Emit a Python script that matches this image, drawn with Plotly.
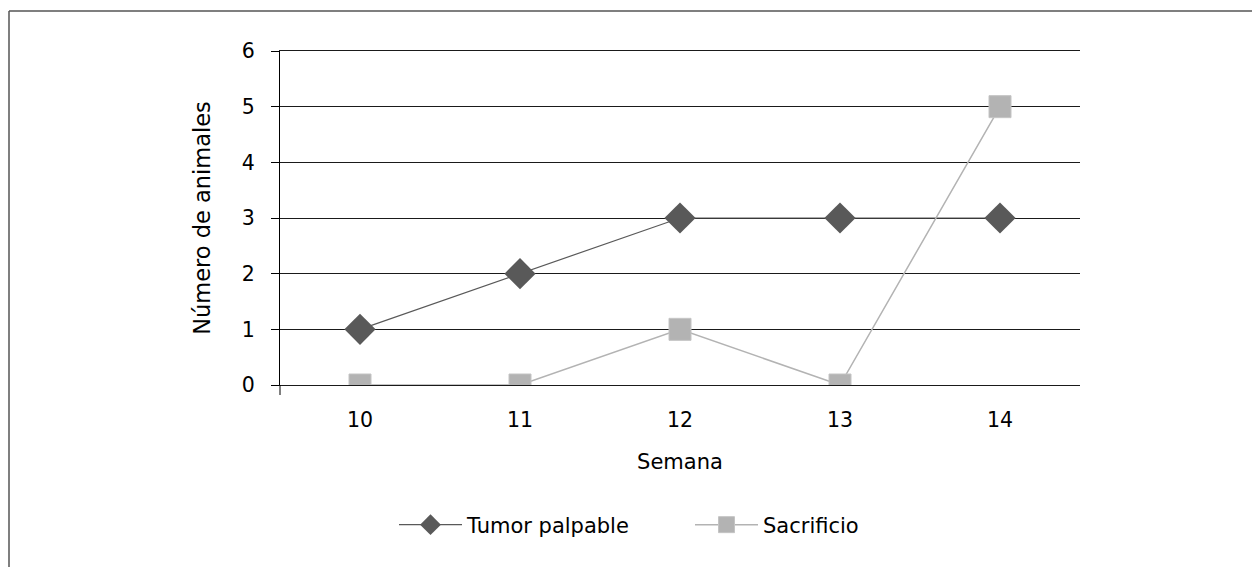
import plotly.graph_objects as go

semanas = [10, 11, 12, 13, 14]
tumor_palpable = [1, 2, 3, 3, 3]
sacrificio = [0, 0, 1, 0, 5]
y_ticks = [0, 1, 2, 3, 4, 5, 6]

FONT = "DejaVu Sans"
OFF = 8  # default page body margin
W, H = 1260 - OFF, 567 - OFF
L, T = 280 - OFF, 51 - OFF
PW, PH = 800, 334
R, B = W - L - PW, H - T - PH

fig = go.Figure()
fig.add_trace(go.Scatter(
    x=semanas, y=tumor_palpable, name="Tumor palpable", mode="lines+markers",
    line=dict(color="#595959", width=1.2),
    marker=dict(symbol="diamond", size=24, color="#595959"),
))
fig.add_trace(go.Scatter(
    x=semanas, y=sacrificio, name="Sacrificio", mode="lines+markers",
    line=dict(color="#b3b3b3", width=1.5),
    marker=dict(symbol="square", size=22, color="#b3b3b3",
                line=dict(color="#c4c4c4", width=1)),
))

def px_x(p):  # page pixel -> paper
    return (p - OFF - L) / PW

def px_y(p):
    return (T + PH - (p - OFF)) / PH

shapes = [
    dict(type="line", xref="paper", yref="paper", x0=0, x1=0, y0=px_y(395), y1=0,
         line=dict(color="#000000", width=1)),
    dict(type="line", xref="paper", yref="paper", x0=px_x(9), x1=px_x(1275), y0=px_y(11), y1=px_y(11),
         line=dict(color="#555555", width=1.5)),
    dict(type="line", xref="paper", yref="paper", x0=px_x(9), x1=px_x(9), y0=px_y(11), y1=px_y(590),
         line=dict(color="#555555", width=1.5)),
]

fig.update_layout(
    width=W, height=H,
    margin=dict(l=L, r=R, t=T, b=B, pad=0),
    paper_bgcolor="white", plot_bgcolor="white",
    font=dict(family=FONT, size=20, color="#000000"),
    showlegend=True,
    legend=dict(orientation="h", x=px_x(394), xanchor="left", y=px_y(525), yanchor="middle",
                font=dict(size=21), itemwidth=63, entrywidth=218, entrywidthmode="pixels",
                itemsizing="trace"),
    shapes=shapes,
    xaxis=dict(
        range=[9.5, 14.5], tickmode="array", tickvals=semanas, ticktext=[str(s) for s in semanas],
        showgrid=False, zeroline=False, showline=True, mirror=True,
        linecolor="#1a1a1a", linewidth=1, ticks="",
        ticklabelstandoff=16, tickfont=dict(size=20.5),
        title=dict(text="Semana", standoff=23, font=dict(size=21)),
    ),
    yaxis=dict(
        range=[0, 6], tickmode="array", tickvals=y_ticks,
        showgrid=True, gridcolor="#1a1a1a", gridwidth=1,
        zeroline=False, showline=True, linecolor="#000000", linewidth=1,
        ticks="outside", ticklen=8, tickcolor="#000000",
        ticklabelstandoff=12, tickfont=dict(size=20.5),
        title=dict(text="Número de animales", standoff=24, font=dict(size=22.5)),
    ),
)

fig.write_html("out.html")
